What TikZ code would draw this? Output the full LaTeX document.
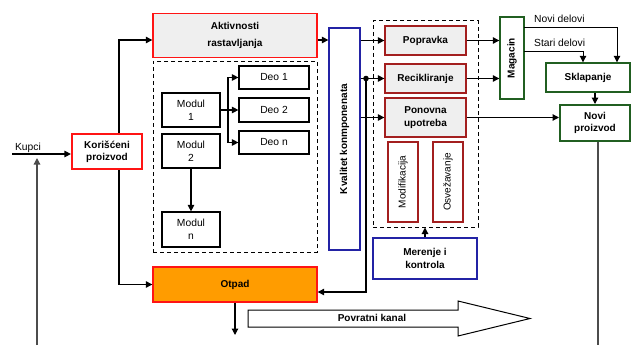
\documentclass[tikz,border=0pt]{standalone}
\usepackage{fontspec}
\setmainfont{Liberation Sans}
\usetikzlibrary{arrows.meta}
\definecolor{jakocrvena}{HTML}{FF1414}
\definecolor{tamnocrvena}{HTML}{A31F1F}
\definecolor{plava}{HTML}{2323A5}
\definecolor{zelena}{HTML}{215F21}
\definecolor{narandzasta}{HTML}{FF9C00}
\definecolor{svetlosiva}{HTML}{EFEFEF}
\begin{document}
\begin{tikzpicture}[x=1pt,y=-1pt,
  font=\fontsize{10.3}{12}\selectfont,
  every node/.style={align=center,inner sep=1pt},
  plainbox/.style={draw,line width=1.2pt},
  redbox/.style={draw=jakocrvena,line width=1.4pt,font=\bfseries},
  darkbox/.style={draw=tamnocrvena,line width=1.3pt,font=\bfseries},
  bluebox/.style={draw=plava,line width=1.3pt,font=\bfseries},
  greenbox/.style={draw=zelena,line width=1.4pt,font=\bfseries},
  dashbox/.style={draw,dash pattern=on 4pt off 3pt,line width=1pt},
  arr/.style={-{Triangle[length=6.5pt,width=6.5pt]},line width=1.2pt}]
  \useasboundingbox (0,0) rectangle (631,345);

  \node[redbox,fill=svetlosiva,minimum width=164,minimum height=44] (akt) at (235,35.5) {Aktivnosti\\[5pt]rastavljanja};
  \node[dashbox,minimum width=164,minimum height=191] (rast) at (235,156.5) {};
  \node[plainbox,minimum width=70,minimum height=23] (deo1) at (274,77.5) {Deo 1};
  \node[plainbox,minimum width=70,minimum height=24] (deo2) at (274,110) {Deo 2};
  \node[plainbox,minimum width=70,minimum height=23] (deon) at (274,142.5) {Deo n};
  \node[plainbox,minimum width=58,minimum height=34] (mod1) at (191,110) {Modul\\[1pt]1};
  \node[plainbox,minimum width=58,minimum height=34] (mod2) at (191,151) {Modul\\[1pt]2};
  \node[plainbox,minimum width=58,minimum height=35] (modn) at (191,229.5) {Modul\\[1pt]n};
  \node[redbox,line width=2.2pt,minimum width=70,minimum height=35] (kor) at (107,151.5) {Korišćeni\\proizvod};
  \node[redbox,fill=narandzasta,minimum width=164,minimum height=35] (otpad) at (235,284.5) {Otpad};
  \node[bluebox,minimum width=31,minimum height=222] (kval) at (344.5,139) {\rotatebox{90}{Kvalitet konmponenata}};
  \node[dashbox,minimum width=105,minimum height=206] (obrada) at (425.5,124) {};
  \node[darkbox,fill=svetlosiva,minimum width=81,minimum height=29] (pop) at (425.5,40.5) {Popravka};
  \node[darkbox,fill=svetlosiva,minimum width=81,minimum height=29] (rec) at (425.5,78.5) {Recikliranje};
  \node[darkbox,fill=svetlosiva,minimum width=81,minimum height=39] (pon) at (425.5,117.5) {Ponovna\\[1pt]upotreba};
  \node[darkbox,font=\normalfont,minimum width=30,minimum height=80] (modif) at (403,182) {\rotatebox{90}{Modifikacija}};
  \node[darkbox,font=\normalfont,minimum width=30,minimum height=80] (osv) at (448,182) {\rotatebox{90}{Osvežavanje}};
  \node[bluebox,minimum width=104,minimum height=41] (mer) at (425,258.5) {Merenje i\\[1pt]kontrola};
  \node[greenbox,minimum width=24,minimum height=82] (mag) at (512,58) {\rotatebox{90}{Magacin}};
  \node[greenbox,minimum width=84,minimum height=29] (skl) at (588,77.5) {Sklapanje};
  \node[greenbox,line width=2pt,minimum width=70,minimum height=36] (novi) at (595,123) {Novi\\proizvod};

  \node[anchor=base] (kupcilbl) at (28,150) {Kupci};
  \node[anchor=base west] (novilbl) at (533,23) {Novi delovi};
  \node[anchor=base west] (starilbl) at (533,46) {Stari delovi};

  \coordinate (kupci) at (12,154);
  \coordinate (povrat) at (37,345);
  \coordinate (povratkraj) at (37,158);
  \coordinate (aktizlaz) at ([yshift=-4.5pt]akt.east);
  \coordinate (grana) at (228,110);
  \coordinate (tacka) at (366,78.5);
  \coordinate (povratak) at (366,292);
  \coordinate (otpadkraj) at (235,335);
  \coordinate (novi1) at (524,28);
  \coordinate (stari1) at (524,52);
  \coordinate (noviizlaz) at (598,345);

  \draw[arr] (kupci) -- (kupci -| kor.west);
  \draw[arr,draw=black!70] (povrat) -- (povratkraj);
  \draw[arr] ([xshift=12pt]kor.north) |- ([yshift=-4.5pt]akt.west);
  \draw[arr] ([xshift=12pt]kor.south) |- (otpad.west);
  \draw[arr] (aktizlaz) -- (aktizlaz -| kval.west);
  \draw[line width=1.2pt] (mod1.east) -- (grana);
  \draw[arr] (grana) |- (deo1.west);
  \draw[arr] (grana) -- (deo2.west);
  \draw[arr] (grana) |- (deon.west);
  \draw[arr] (mod2.south) -- (modn.north);
  \draw[arr] (otpad.south) -- (otpadkraj);
  \draw[arr] (kval.east |- pop.west) -- (pop.west);
  \draw[line width=1.2pt] (kval.east |- rec.west) -- (tacka);
  \fill (tacka) circle (2.8);
  \draw[arr] (tacka) -- (rec.west);
  \draw[arr] (kval.east |- pon.west) -- (pon.west);
  \draw[arr] (tacka) -- (povratak) -- (povratak -| otpad.east);
  \draw[arr] (pop.east) -- (pop.east -| mag.west);
  \draw[arr] (rec.east) -- (rec.east -| mag.west);
  \draw[arr] (pon.east) -- (pon.east -| novi.west);
  \draw[arr,line width=1pt] (novi1) -| ([xshift=29pt]skl.north);
  \draw[arr,line width=1pt] (stari1) -| ([xshift=-5pt]skl.north);
  \draw[arr] (skl.south -| novi.north) -- (novi.north);
  \draw[line width=1.2pt,draw=black!70] ([xshift=3pt]novi.south) -- (noviizlaz);
  \draw[arr] (mer.north) -- (mer.north |- obrada.south);

  \draw[line width=1pt] (248,310) -- (458,310) -- (458,301) -- (530,318.5) -- (458,336) -- (458,327) -- (248,327) -- cycle;
  \node[font=\bfseries] (kanal) at (372,318) {Povratni kanal};
\end{tikzpicture}
\end{document}
